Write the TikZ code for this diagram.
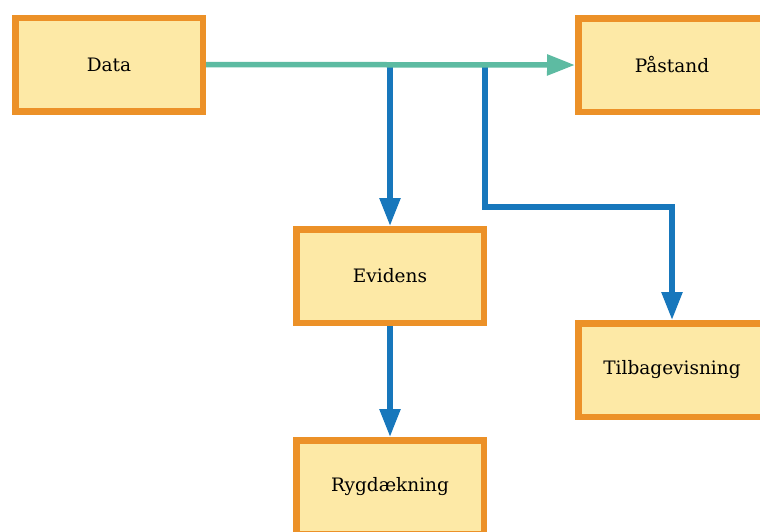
\documentclass[tikz,border=0pt]{standalone}
\usepackage{fontspec}
\setmainfont{DejaVu Serif}
\usetikzlibrary{arrows.meta}
\definecolor{boxfill}{HTML}{FDE9A6}
\definecolor{boxline}{HTML}{EC9128}
\definecolor{tealc}{HTML}{5DBBA2}
\definecolor{bluec}{HTML}{1777BC}
\tikzset{
  box/.style={draw=boxline, fill=boxfill, line width=6.5pt, minimum width=187.5pt, minimum height=93.5pt, inner sep=0pt, font=\fontsize{18.5}{22}\selectfont},
  tealarrow/.style={draw=tealc, line width=5.5pt, -{Triangle[length=28pt,width=20pt]}},
  bluearrow/.style={draw=bluec, line width=5.5pt, -{Triangle[length=28pt,width=20pt]}},
}
\begin{document}
\begin{tikzpicture}[x=1pt,y=-1pt]
\useasboundingbox (0,0) rectangle (760,531);
\clip (0,0) rectangle (760,531);
\node[box] (data) at (109,64.5) {Data};
\node[box] (paastand) at (672,65) {Påstand};
\node[box] (evidens) at (390,276) {Evidens};
\node[box] (tilb) at (672,370) {Tilbagevisning};
\node[box] (ryg) at (390,487) {Rygdækning};
\coordinate (j1) at (390,65);
\coordinate (j2) at (485,65);
\coordinate (bend) at (485,207);
\draw[bluearrow] (j1) -- (evidens.north);
\draw[bluearrow] (j2) -- (bend) -| (tilb.north);
\draw[bluearrow] (evidens.south) -- (ryg.north);
\draw[tealarrow] (data.east) -- (paastand.west);
\end{tikzpicture}
\end{document}
